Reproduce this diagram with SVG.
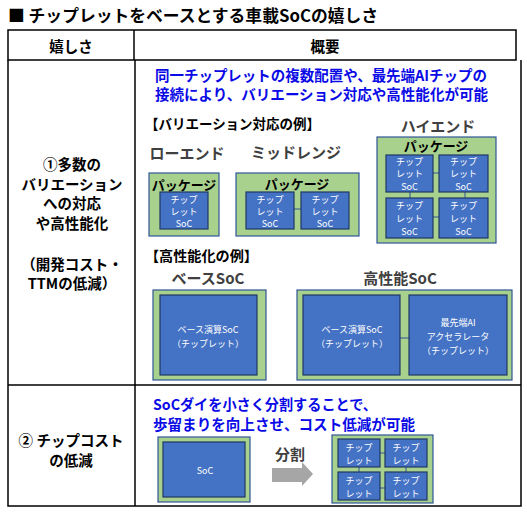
<svg xmlns="http://www.w3.org/2000/svg" width="527" height="512" viewBox="0 0 527 512">
<style>
text{font-family:"Noto Sans CJK JP","Noto Sans",sans-serif;dominant-baseline:central}
.b{font-weight:bold}
.c{text-anchor:middle}
.blue{fill:#0a0ae6;font-weight:bold;font-size:14.5px}
.gray{fill:#404040;font-weight:bold;font-size:15px}
.pkg{fill:#a9d18e;stroke:#2f5597;stroke-width:1.2}
.chip{fill:#4472c4;stroke:#203864;stroke-width:1.2}
.ct{fill:#fff;font-size:9px;text-anchor:middle}
.pl{font-weight:bold;font-size:13px;text-anchor:middle;fill:#000}
.tl{stroke:#000;stroke-width:1.5;fill:none}
.cn{stroke:#2f5597;stroke-width:1}
</style>
<rect width="527" height="512" fill="#fff"/>
<text x="8" y="15" class="b" font-size="16.5" textLength="370" lengthAdjust="spacingAndGlyphs">■ チップレットをベースとする車載SoCの嬉しさ</text>
<g id="table">
<rect class="tl" x="8" y="30" width="508" height="30"/>
<line class="tl" x1="134" y1="30" x2="134" y2="60"/>
<path class="tl" d="M8 60 V506 H521 V60"/>
<line class="tl" x1="135" y1="60" x2="135" y2="506"/>
<line class="tl" x1="8" y1="385" x2="521" y2="385"/>
<text x="71" y="45" class="b c" font-size="14.5">嬉しさ</text>
<text x="325" y="45" class="b c" font-size="14.5">概要</text>
</g>
<g id="row1-left" class="b" font-size="14.5">
<text x="72" y="163" class="c">①多数の</text>
<text x="72" y="183" class="c">バリエーション</text>
<text x="72" y="202.5" class="c">への対応</text>
<text x="72" y="222" class="c">や高性能化</text>
<text x="72" y="263" class="c">（開発コスト・</text>
<text x="72" y="282.5" class="c">TTMの低減）</text>
</g>
<g id="row1-summary">
<text x="155" y="74.5" class="blue" textLength="332" lengthAdjust="spacingAndGlyphs">同一チップレットの複数配置や、最先端AIチップの</text>
<text x="155" y="93.5" class="blue" textLength="333" lengthAdjust="spacingAndGlyphs">接続により、バリエーション対応や高性能化が可能</text>
<text x="145" y="123" class="b" font-size="14" textLength="175" lengthAdjust="spacingAndGlyphs">【バリエーション対応の例】</text>
<text x="187" y="152" class="gray c">ローエンド</text>
<text x="296" y="151" class="gray c">ミッドレンジ</text>
<text x="438" y="125" class="gray c">ハイエンド</text>
</g>
<g id="low-end">
<rect class="pkg" x="149" y="173" width="70" height="63"/>
<text x="184" y="184" class="pl">パッケージ</text>
<rect class="chip" x="160" y="192" width="48" height="37"/>
<text x="184" y="199" class="ct">チップ</text>
<text x="184" y="211" class="ct">レット</text>
<text x="184" y="223" class="ct">SoC</text>
</g>
<g id="mid-range">
<rect class="pkg" x="236" y="173" width="123" height="63"/>
<text x="297" y="183" class="pl">パッケージ</text>
<line class="cn" x1="294" y1="209" x2="301" y2="209"/>
<rect class="chip" x="246" y="192" width="48" height="37"/>
<text x="270" y="199" class="ct">チップ</text>
<text x="270" y="211" class="ct">レット</text>
<text x="270" y="223" class="ct">SoC</text>
<rect class="chip" x="301" y="192" width="48" height="37"/>
<text x="325" y="199" class="ct">チップ</text>
<text x="325" y="211" class="ct">レット</text>
<text x="325" y="223" class="ct">SoC</text>
</g>
<g id="high-end">
<rect class="pkg" x="377" y="137" width="119" height="106"/>
<text x="436" y="145" class="pl">パッケージ</text>
<line class="cn" x1="433" y1="173" x2="439" y2="173"/>
<line class="cn" x1="433" y1="217" x2="439" y2="217"/>
<line class="cn" x1="410" y1="192" x2="410" y2="198"/>
<line class="cn" x1="465" y1="192" x2="465" y2="198"/>
<rect class="chip" x="386" y="155" width="47" height="37"/>
<text x="409.5" y="161" class="ct">チップ</text>
<text x="409.5" y="173.5" class="ct">レット</text>
<text x="409.5" y="186" class="ct">SoC</text>
<rect class="chip" x="439" y="155" width="49" height="37"/>
<text x="463.5" y="161" class="ct">チップ</text>
<text x="463.5" y="173.5" class="ct">レット</text>
<text x="463.5" y="186" class="ct">SoC</text>
<rect class="chip" x="386" y="198" width="47" height="40"/>
<text x="409.5" y="205" class="ct">チップ</text>
<text x="409.5" y="218" class="ct">レット</text>
<text x="409.5" y="231" class="ct">SoC</text>
<rect class="chip" x="439" y="198" width="49" height="40"/>
<text x="463.5" y="205" class="ct">チップ</text>
<text x="463.5" y="218" class="ct">レット</text>
<text x="463.5" y="231" class="ct">SoC</text>
</g>
<g id="perf-examples">
<text x="145" y="255" class="b" font-size="14" textLength="113" lengthAdjust="spacingAndGlyphs">【高性能化の例】</text>
<text x="208" y="277" class="gray c" font-size="16">ベースSoC</text>
<text x="400" y="277" class="gray c" font-size="16">高性能SoC</text>
</g>
<g id="base-soc">
<rect class="pkg" x="153" y="290" width="113" height="90"/>
<rect class="chip" x="160" y="295" width="97" height="80"/>
<text x="208" y="329" class="ct" font-size="10">ベース演算SoC</text>
<text x="208" y="343" class="ct" font-size="10">（チップレット）</text>
</g>
<g id="high-perf-soc">
<rect class="pkg" x="297" y="290" width="215" height="90"/>
<line class="cn" x1="400" y1="338" x2="409" y2="338"/>
<rect class="chip" x="303" y="295" width="97" height="80"/>
<text x="352" y="329" class="ct" font-size="10">ベース演算SoC</text>
<text x="352" y="343" class="ct" font-size="10">（チップレット）</text>
<rect class="chip" x="409" y="295" width="98" height="80"/>
<text x="458" y="322.5" class="ct" font-size="9.5">最先端AI</text>
<text x="458" y="336.5" class="ct" font-size="9.5">アクセラレータ</text>
<text x="458" y="350.5" class="ct" font-size="9.5">（チップレット）</text>
</g>
<g id="row2-left" class="b" font-size="14.5">
<text x="71" y="439.5" class="c">② チップコスト</text>
<text x="71" y="459" class="c">の低減</text>
</g>
<g id="row2-summary">
<text x="153" y="403" class="blue" textLength="224" lengthAdjust="spacingAndGlyphs">SoCダイを小さく分割することで、</text>
<text x="153" y="423" class="blue" textLength="262" lengthAdjust="spacingAndGlyphs">歩留まりを向上させ、コスト低減が可能</text>
</g>
<g id="soc">
<rect class="pkg" x="158" y="437" width="92" height="65"/>
<rect class="chip" x="163" y="442" width="82" height="55"/>
<text x="205" y="470" class="ct" font-size="10">SoC</text>
</g>
<g id="split-arrow">
<text x="290" y="453" class="gray c" font-size="16">分割</text>
<path d="M272 468 H302 V462 L313 474 L302 486 V482 H272 Z" fill="#a6a6a6"/>
</g>
<g id="chiplets">
<rect class="pkg" x="332" y="435" width="101" height="68"/>
<line class="cn" x1="380" y1="453" x2="385" y2="453"/>
<line class="cn" x1="380" y1="488" x2="385" y2="488"/>
<line class="cn" x1="359" y1="467" x2="359" y2="472"/>
<line class="cn" x1="406" y1="467" x2="406" y2="472"/>
<rect class="chip" x="338" y="439" width="42" height="28"/>
<text x="359" y="447" class="ct">チップ</text>
<text x="359" y="460" class="ct">レット</text>
<rect class="chip" x="385" y="439" width="42" height="28"/>
<text x="406" y="447" class="ct">チップ</text>
<text x="406" y="460" class="ct">レット</text>
<rect class="chip" x="338" y="472" width="42" height="28"/>
<text x="359" y="480" class="ct">チップ</text>
<text x="359" y="493" class="ct">レット</text>
<rect class="chip" x="385" y="472" width="42" height="28"/>
<text x="406" y="480" class="ct">チップ</text>
<text x="406" y="493" class="ct">レット</text>
</g>
</svg>
